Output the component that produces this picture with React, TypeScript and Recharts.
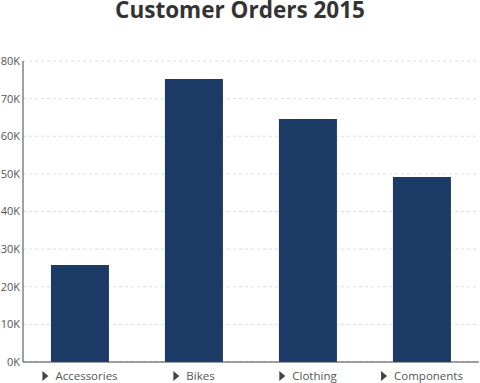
import React from 'react';
import { BarChart, Bar, XAxis, YAxis, CartesianGrid } from 'recharts';

const categories = ['Accessories', 'Bikes', 'Clothing', 'Components'];
const orders = [25800, 75200, 64600, 49200];
const yTicks = [0, 10000, 20000, 30000, 40000, 50000, 60000, 70000, 80000];

const data = categories.map((c, i) => ({ name: c, orders: orders[i] }));

const FONT = '"Open Sans", sans-serif';
const TICK_SIZE = 11.5;

let ctx: CanvasRenderingContext2D | null = null;
function measure(t: string): number {
  if (!ctx) {
    const c = document.createElement('canvas');
    ctx = c.getContext('2d');
  }
  if (!ctx) return t.length * 6;
  ctx.font = `${TICK_SIZE}px "Open Sans"`;
  return ctx.measureText(t).width;
}

const XTick = (props: any) => {
  const { x, y, payload } = props;
  const label = String(payload.value);
  const tw = measure(label);
  const triW = 6;
  const gap = 7;
  const total = triW + gap + tw;
  const left = x - total / 2;
  const cy = y + 12;
  return (
    <g>
      <path d={`M${left},${cy - 5} L${left + triW},${cy} L${left},${cy + 5} Z`} fill="#444" />
      <text x={left + triW + gap} y={cy} dy="0.35em" fontSize={TICK_SIZE} fontFamily={FONT} fill="#555" textAnchor="start">
        {label}
      </text>
    </g>
  );
};

export default function App() {
  return (
    <div style={{ position: 'absolute', left: 0, top: 0, width: 480, height: 383, background: '#fff' }}>
      <div
        style={{
          position: 'absolute',
          left: 0,
          top: 0,
          width: 480,
          textAlign: 'center',
          fontFamily: FONT,
          fontWeight: 700,
          fontSize: 22.5,
          lineHeight: '20px',
          color: '#333',
        }}
      >
        Customer Orders 2015
      </div>
      <BarChart
        width={480}
        height={383}
        data={data}
        margin={{ top: 61, right: 1, bottom: 0, left: 0 }}
        barCategoryGap="24.5%"
      >
        <CartesianGrid vertical={false} stroke="#ddd" strokeDasharray="3 3" />
        <XAxis
          dataKey="name"
          height={21}
          axisLine={{ stroke: '#444' }}
          tickLine={false}
          tickSize={0}
          tick={<XTick />}
          interval={0}
        />
        <YAxis
          width={23}
          domain={[0, 80000]}
          ticks={yTicks}
          axisLine={{ stroke: '#444' }}
          tickLine={false}
          tickSize={0}
          tickMargin={3}
          tick={{ fontSize: 11, fontFamily: FONT, fill: '#555' }}
          tickFormatter={(v: number) => `${v / 1000}K`}
        />
        <Bar dataKey="orders" fill="#1b3a66" isAnimationActive={false} />
      </BarChart>
    </div>
  );
}
